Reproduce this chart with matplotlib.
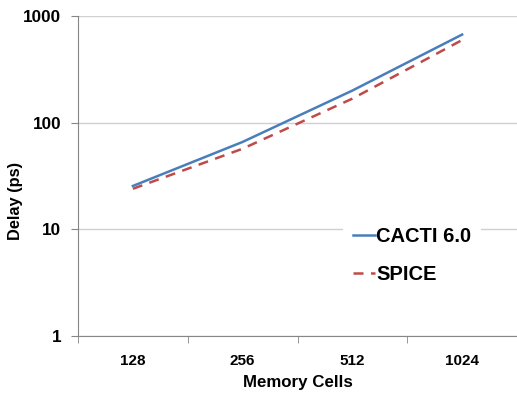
import numpy as np
import matplotlib.pyplot as plt
from matplotlib.ticker import FixedLocator, NullLocator

plt.rcParams['font.family'] = ['Liberation Sans', 'DejaVu Sans']
plt.rcParams['font.weight'] = 'bold'

# data
cells = ['128', '256', '512', '1024']
cacti = [25.5, 66, 200, 670]
spice = [24, 57, 168, 595]

fig = plt.figure(figsize=(5.17, 4.0), dpi=100)
ax = fig.add_axes([78 / 517, 64 / 400, 439 / 517, 320 / 400])

x = np.arange(len(cells))
ax.plot(x, cacti, color='#4a7ebb', lw=1.8, label='CACTI 6.0')
ax.plot(x, spice, color='#be4b48', lw=1.8, ls=(0, (4, 3)), label='SPICE')

ax.set_yscale('log')
ax.set_ylim(1, 1000)
ax.set_xlim(-0.5, 3.5)
ax.yaxis.set_major_locator(FixedLocator([1, 10, 100, 1000]))
ax.yaxis.set_minor_locator(NullLocator())
ax.set_yticklabels(['1', '10', '100', '1000'], fontsize=12.3, fontweight='bold')

ax.set_xticks(x)
ax.set_xticklabels(cells, fontsize=11, fontweight='bold')
ax.xaxis.set_minor_locator(FixedLocator(np.arange(-0.5, 4, 1)))
ax.tick_params(axis='x', which='major', length=0, pad=13)
ax.tick_params(axis='x', which='minor', length=5, color='#868686', direction='out')
ax.tick_params(axis='y', length=5, color='#868686', pad=7)

ax.grid(axis='y', which='major', color='#d0d0d0', lw=1)
ax.set_axisbelow(True)
for s in ['top', 'right']:
    ax.spines[s].set_visible(False)
for s in ['left', 'bottom']:
    ax.spines[s].set_color('#868686')

ax.set_xlabel('Memory Cells', fontsize=12.2, fontweight='bold', labelpad=5)
ax.set_ylabel('Delay (ps)', fontsize=11.8, fontweight='bold')
ax.yaxis.set_label_coords(-0.125, 0.422)

leg = ax.legend(loc='upper left', bbox_to_anchor=(343 / 517, 1 - 217 / 400),
                bbox_transform=fig.transFigure, borderaxespad=0, frameon=True,
                prop={'size': 14.5, 'weight': 'bold'}, handlelength=1.1,
                handletextpad=0.05, labelspacing=0.92, borderpad=0.5)
leg.get_frame().set_edgecolor('none')
leg.get_frame().set_facecolor('white')
leg.get_frame().set_alpha(1)
leg.get_frame().set_boxstyle('square', pad=0)

fig.savefig('out.png', dpi=100)
